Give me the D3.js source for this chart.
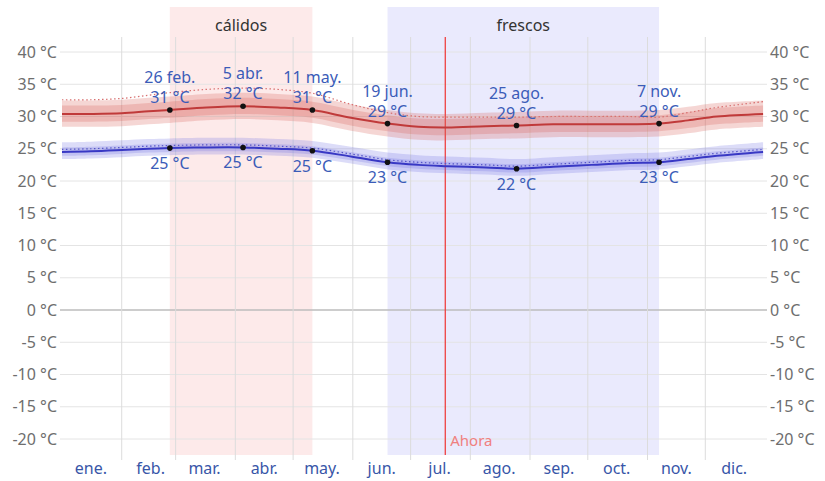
<!DOCTYPE html>
<html>
<head>
<meta charset="utf-8">
<script src="https://cdn.jsdelivr.net/npm/d3@7"></script>
<style>
  body { margin: 0; background: #fff; }
  svg { font-family: "Noto Sans", "DejaVu Sans", sans-serif; }
</style>
</head>
<body>
<div class="chart"></div>
<script>
// day of year (0 = 1 ene.) for each reading
var days = [0, 15, 31, 45, 56, 75, 94, 112, 130, 150, 169, 185, 200, 220, 236, 255, 275, 295, 310, 325, 340, 364];

var high    = [30.4,30.4,30.5,30.8,31.0,31.4,31.6,31.4,31.0,29.8,28.9,28.4,28.3,28.5,28.6,28.8,28.8,28.8,28.9,29.4,30.0,30.4];
var highP90 = [32.5,32.5,32.6,32.9,33.1,33.5,33.7,33.5,33.1,31.9,31.0,30.5,30.4,30.6,30.7,30.9,30.9,30.9,31.0,31.5,32.1,32.5];
var highP75 = [31.7,31.7,31.8,32.1,32.3,32.7,32.9,32.7,32.3,31.1,30.2,29.7,29.6,29.8,29.9,30.1,30.1,30.1,30.2,30.7,31.3,31.7];
var highP25 = [29.2,29.2,29.3,29.6,29.8,30.2,30.4,30.2,29.8,28.6,27.7,27.2,27.1,27.3,27.4,27.6,27.6,27.6,27.7,28.2,28.8,29.2];
var highP10 = [28.4,28.4,28.5,28.8,29.0,29.4,29.6,29.4,29.0,27.8,26.9,26.4,26.3,26.5,26.6,26.8,26.8,26.8,26.9,27.4,28.0,28.4];
var highFeel = [32.6,32.6,32.8,33.3,33.7,34.2,34.4,34.2,33.6,31.9,30.6,30.0,29.9,29.9,29.9,30.0,30.0,30.0,29.9,30.6,31.4,32.3];

var low    = [24.5,24.6,24.8,25.0,25.1,25.2,25.2,25.0,24.7,23.8,22.9,22.5,22.3,22.1,21.9,22.2,22.5,22.8,22.9,23.4,23.9,24.5];
var lowP90 = [26.0,26.1,26.3,26.5,26.6,26.7,26.7,26.5,26.2,25.3,24.4,24.0,23.8,23.6,23.4,23.7,24.0,24.3,24.4,24.9,25.4,26.0];
var lowP75 = [25.2,25.3,25.5,25.7,25.8,25.9,25.9,25.7,25.4,24.5,23.6,23.2,23.0,22.8,22.6,22.9,23.2,23.5,23.6,24.1,24.6,25.2];
var lowP25 = [23.9,24.0,24.2,24.4,24.5,24.6,24.6,24.4,24.1,23.2,22.3,21.9,21.7,21.5,21.3,21.6,21.9,22.2,22.3,22.8,23.3,23.9];
var lowP10 = [23.4,23.5,23.7,23.9,24.0,24.1,24.1,23.9,23.6,22.7,21.8,21.4,21.2,21.0,20.8,21.1,21.4,21.7,21.8,22.3,22.8,23.4];
var lowFeel = [24.9,25.0,25.2,25.4,25.5,25.6,25.6,25.4,25.1,24.2,23.3,22.9,22.7,22.5,22.3,22.6,22.9,23.2,23.3,23.8,24.3,24.9];

// annotated points
var markDays   = [56, 94, 130, 169, 236, 310];
var markDates  = ["26 feb.", "5 abr.", "11 may.", "19 jun.", "25 ago.", "7 nov."];
var markHigh   = [31.0, 31.6, 31.0, 28.9, 28.6, 28.9];
var markLow    = [25.1, 25.2, 24.7, 22.9, 21.9, 22.9];

var seasonNames = ["cálidos", "frescos"];
var seasonStart = [56, 169];
var seasonEnd   = [130, 310];

var nowDay = 199;
var monthLabels = ["ene.","feb.","mar.","abr.","may.","jun.","jul.","ago.","sep.","oct.","nov.","dic."];
var yTicks = [40, 35, 30, 25, 20, 15, 10, 5, 0, -5, -10, -15, -20];

var svgWidth = 825, svgHeight = 481;
var plotLeft = 62, plotRight = 765, plotTop = 37, plotBottom = 455;
var fontSize = 16;

var svg = d3.select(".chart").append("svg")
    .attr("width", svgWidth)
    .attr("height", svgHeight);

var year0 = new Date(Date.UTC(2023, 0, 1));
function dayDate(d) { return d3.utcDay.offset(year0, d); }

var x = d3.scaleUtc()
    .domain([year0, new Date(Date.UTC(2024, 0, 1))])
    .range([plotLeft, plotRight]);
var y = d3.scaleLinear().domain([-20, 40]).range([439, 52]);

// season backgrounds
var seasonColors = ["rgba(250,200,200,0.38)", "rgba(205,205,250,0.42)"];
seasonNames.forEach(function(name, i) {
  var x0 = x(dayDate(seasonStart[i])), x1 = x(dayDate(seasonEnd[i]));
  svg.append("rect")
     .attr("x", x0).attr("y", 7)
     .attr("width", x1 - x0).attr("height", plotBottom - 7)
     .attr("fill", seasonColors[i]);
  svg.append("text")
     .attr("x", (x0 + x1) / 2).attr("y", 31)
     .attr("text-anchor", "middle")
     .attr("font-size", fontSize)
     .attr("fill", "#333")
     .text(name);
});

// horizontal grid
svg.append("g").selectAll("line")
    .data(yTicks).enter().append("line")
    .attr("x1", plotLeft - 2).attr("x2", plotRight + 2)
    .attr("y1", function(d) { return y(d); })
    .attr("y2", function(d) { return y(d); })
    .attr("stroke", function(d) { return d === 0 ? "#bdbdbd" : "#e4e4e4"; })
    .attr("stroke-width", function(d) { return d === 0 ? 1.5 : 1; });

// vertical month grid
var months = d3.utcMonth.range(year0, new Date(Date.UTC(2024, 0, 1)));
svg.append("g").selectAll("line")
    .data(months.slice(1)).enter().append("line")
    .attr("x1", function(d) { return x(d); })
    .attr("x2", function(d) { return x(d); })
    .attr("y1", plotTop).attr("y2", 460)
    .attr("stroke", "#dcdcdc");

// y labels, both sides
var yAxisL = d3.axisLeft(y).tickValues(yTicks).tickSize(0).tickPadding(0)
    .tickFormat(function(d) { return d + " °C"; });
var yAxisR = d3.axisRight(y).tickValues(yTicks).tickSize(0).tickPadding(0)
    .tickFormat(function(d) { return d + " °C"; });
var gl = svg.append("g").attr("transform", "translate(57,0)").call(yAxisL);
var gr = svg.append("g").attr("transform", "translate(770,0)").call(yAxisR);
[gl, gr].forEach(function(g) {
  g.select(".domain").remove();
  g.selectAll("text").attr("font-size", fontSize).attr("fill", "#6e6e6e")
   .attr("font-family", "Noto Sans, sans-serif");
});

// month labels
svg.append("g").selectAll("text")
    .data(months).enter().append("text")
    .attr("x", function(d) { return x(d3.utcDay.offset(d, 15)); })
    .attr("y", 474)
    .attr("text-anchor", "middle")
    .attr("font-size", fontSize)
    .attr("fill", "#3856a8")
    .text(function(d, i) { return monthLabels[i]; });

var pts = days.map(function(d, i) { return i; });
var curve = d3.curveCatmullRom;
function band(lo, hi) {
  return d3.area().curve(curve)
    .x(function(i) { return x(dayDate(days[i])); })
    .y0(function(i) { return y(lo[i]); })
    .y1(function(i) { return y(hi[i]); });
}
function line(vals) {
  return d3.line().curve(curve)
    .x(function(i) { return x(dayDate(days[i])); })
    .y(function(i) { return y(vals[i]); });
}

// now line
svg.append("line")
   .attr("x1", x(dayDate(nowDay))).attr("x2", x(dayDate(nowDay)))
   .attr("y1", plotTop).attr("y2", plotBottom)
   .attr("stroke", "#ee4040").attr("stroke-width", 1.3);
svg.append("text")
   .attr("x", x(dayDate(nowDay)) + 5).attr("y", 446)
   .attr("font-size", 15).attr("fill", "#f08080")
   .text("Ahora");

svg.append("path").attr("d", band(highP10, highP90)(pts)).attr("fill", "rgba(215,90,85,0.25)");
svg.append("path").attr("d", band(highP25, highP75)(pts)).attr("fill", "rgba(215,90,85,0.25)");
svg.append("path").attr("d", band(lowP10, lowP90)(pts)).attr("fill", "rgba(110,110,225,0.24)");
svg.append("path").attr("d", band(lowP25, lowP75)(pts)).attr("fill", "rgba(110,110,225,0.24)");

svg.append("path").attr("d", line(highFeel)(pts))
   .attr("fill", "none").attr("stroke", "#d87070").attr("stroke-width", 1.2)
   .attr("stroke-dasharray", "1.5,2.5");
svg.append("path").attr("d", line(lowFeel)(pts))
   .attr("fill", "none").attr("stroke", "#5555c8").attr("stroke-width", 1.2)
   .attr("stroke-dasharray", "1.5,2.5");

svg.append("path").attr("d", line(high)(pts))
   .attr("fill", "none").attr("stroke", "#c03a3a").attr("stroke-width", 2);
svg.append("path").attr("d", line(low)(pts))
   .attr("fill", "none").attr("stroke", "#3838c4").attr("stroke-width", 2);

// markers + labels
var labelColor = "#3b5cb8";
markDays.forEach(function(d, i) {
  var cx = x(dayDate(d));
  var hy = y(markHigh[i]), ly = y(markLow[i]);
  svg.append("text").attr("x", cx).attr("y", hy - 27)
     .attr("text-anchor", "middle").attr("font-size", fontSize).attr("fill", labelColor)
     .text(markDates[i]);
  svg.append("text").attr("x", cx).attr("y", hy - 7)
     .attr("text-anchor", "middle").attr("font-size", fontSize).attr("fill", labelColor)
     .text(Math.round(markHigh[i]) + " °C");
  svg.append("text").attr("x", cx).attr("y", ly + 21)
     .attr("text-anchor", "middle").attr("font-size", fontSize).attr("fill", labelColor)
     .text(Math.round(markLow[i]) + " °C");
  svg.append("circle").attr("cx", cx).attr("cy", hy).attr("r", 2.8).attr("fill", "#111");
  svg.append("circle").attr("cx", cx).attr("cy", ly).attr("r", 2.8).attr("fill", "#111");
});
</script>
</body>
</html>
